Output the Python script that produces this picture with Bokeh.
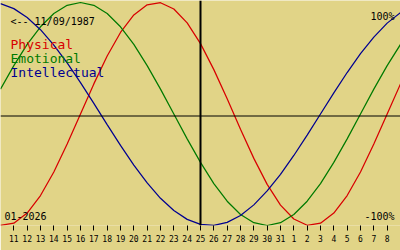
from bokeh.plotting import figure
from bokeh.models import Range1d, LinearAxis, FixedTicker, Span, Label
from bokeh.embed import file_html
from bokeh.resources import INLINE

# Day labels (11 Jan .. 8 Feb 2026); index 0 = 10 Jan, index 30 = 9 Feb
day_labels = [str(d) for d in range(11, 32)] + [str(d) for d in range(1, 9)]
day_index = list(range(0, 31))
today_index = 15  # 25 Jan

physical = [-0.998, -0.979, -0.888, -0.731, -0.520, -0.270, 0.000, 0.270, 0.520, 0.731,
            0.888, 0.979, 0.998, 0.942, 0.817, 0.631, 0.398, 0.136, -0.136, -0.398,
            -0.631, -0.817, -0.942, -0.998, -0.979, -0.888, -0.731, -0.520, -0.270, 0.000,
            0.270]
emotional = [0.223, 0.434, 0.624, 0.782, 0.901, 0.975, 1.000, 0.975, 0.901, 0.782,
             0.624, 0.434, 0.223, 0.000, -0.223, -0.434, -0.624, -0.782, -0.901, -0.975,
             -1.000, -0.975, -0.901, -0.782, -0.624, -0.434, -0.223, 0.000, 0.223, 0.434,
             0.624]
intellectual = [0.990, 0.945, 0.866, 0.756, 0.618, 0.458, 0.282, 0.095, -0.095, -0.282,
                -0.458, -0.618, -0.756, -0.866, -0.945, -0.990, -0.999, -0.972, -0.910, -0.815,
                -0.690, -0.541, -0.372, -0.189, 0.000, 0.189, 0.372, 0.541, 0.690, 0.815,
                0.910]

BG = "#E1D487"
RED = "#D80000"
GREEN = "#007A00"
BLUE = "#000090"
FONT = "DejaVu Sans Mono"

FRAME_H = 225
Y0, Y1 = -1.0, 1.0179


def py(p):
    """pixel row (from top) -> data y"""
    return Y0 + (FRAME_H - p) / FRAME_H * (Y1 - Y0)


def px(p):
    return p / 400 * 30


p = figure(width=400, height=250, output_backend="svg", toolbar_location=None,
           x_axis_type=None, y_axis_type=None,
           x_range=Range1d(0, 30), y_range=Range1d(Y0, Y1),
           min_border_left=0, min_border_right=0, min_border_top=0,
           min_border_bottom=25)
p.background_fill_color = BG
p.border_fill_color = BG
p.outline_line_color = None
p.xgrid.visible = False
p.ygrid.visible = False

axis = LinearAxis(ticker=FixedTicker(ticks=day_index[1:30]),
                  major_label_overrides={i: lab for i, lab in zip(day_index[1:30], day_labels)})
axis.axis_line_color = None
axis.major_tick_in = 0
axis.major_tick_out = 5
axis.major_tick_line_color = "black"
axis.minor_tick_line_color = None
axis.major_label_text_font = FONT
axis.major_label_text_font_size = "8px"
axis.major_label_text_color = "black"
axis.major_label_standoff = 4
p.add_layout(axis, "below")

p.add_layout(Span(location=py(115.5), dimension="width", line_color="black", line_width=1))
p.add_layout(Span(location=today_index, dimension="height", line_color="black", line_width=2))

p.line(day_index, physical, line_color=RED, line_width=1.25)
p.line(day_index, emotional, line_color=GREEN, line_width=1.25)
p.line(day_index, intellectual, line_color=BLUE, line_width=1.25)

def lab(x, y, text, color="black", size="10px", align="left"):
    p.add_layout(Label(x=px(x), y=py(y), text=text, text_color=color,
                       text_font=FONT, text_font_size=size, text_align=align,
                       text_baseline="alphabetic"))

lab(10, 21, "<-- 11/09/1987")
lab(10, 43.5, "Physical", RED, "13px")
lab(10, 57.5, "Emotional", GREEN, "13px")
lab(10, 72, "Intellectual", BLUE, "13px")
lab(394, 16, "100%", align="right")
lab(394, 215.5, "-100%", align="right")
lab(4, 215.5, "01-2026")

open("out.html", "w").write(file_html(p, INLINE))
